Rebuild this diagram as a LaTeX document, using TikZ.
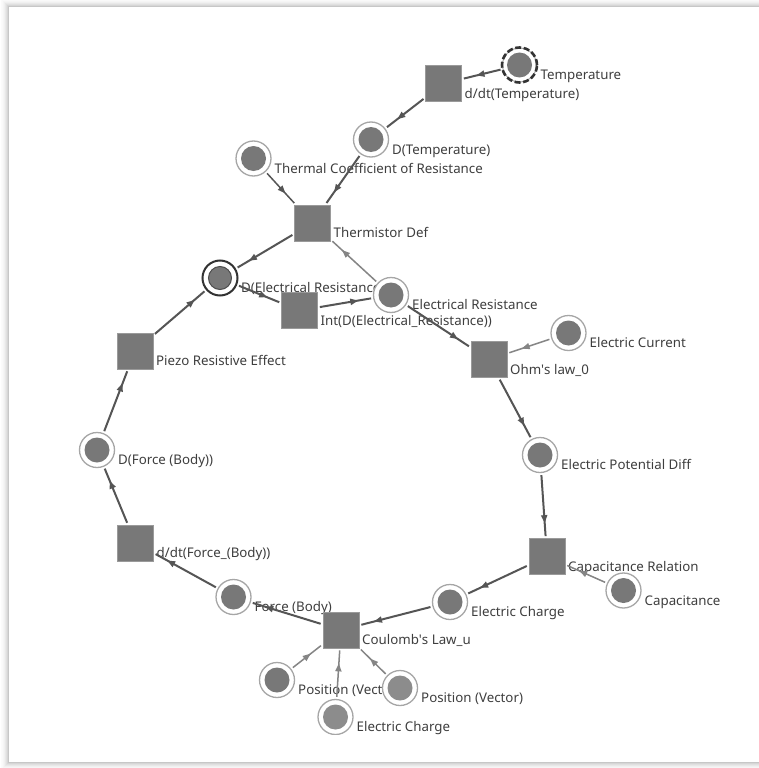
\documentclass[tikz,border=0pt]{standalone}
\usepackage{fontspec}
\setmainfont{Noto Sans}
\usetikzlibrary{arrows.meta,decorations.markings}
\definecolor{nodegray}{HTML}{787878}
\definecolor{lightnode}{HTML}{8C8C8C}
\definecolor{ringgray}{HTML}{A6A6A6}
\definecolor{sqborder}{HTML}{9A9A9A}
\definecolor{textgray}{HTML}{3E3E3E}
\definecolor{edgedark}{HTML}{555555}
\definecolor{edgelight}{HTML}{858585}
\pgfdeclarelayer{panel}
\pgfdeclarelayer{labels}
\pgfdeclarelayer{edges}
\pgfsetlayers{panel,labels,edges,main}
\tikzset{
  place/.style={circle, minimum size=35pt, inner sep=0pt, draw=ringgray, line width=1.3pt, fill=white,
    path picture={\fill[nodegray] (path picture bounding box.center) circle (12.5pt);}},
  lplace/.style={place, path picture={\fill[lightnode] (path picture bounding box.center) circle (12.5pt);}},
  trans/.style={rectangle, minimum size=36pt, inner sep=0pt, fill=nodegray, draw=sqborder, line width=0.8pt},
  lbl/.style={anchor=base west, inner sep=0pt, text=textgray, font=\fontsize{13.3}{15}\selectfont, xshift=21pt, yshift=-14.5pt},
  arrowmark/.style={postaction={decorate}, decoration={markings, mark=at position -15pt with {\arrow{Triangle[length=8pt,width=6pt]}}}},
  edgemain/.style={draw=edgedark, line width=2pt, shorten <=2pt, shorten >=2pt, arrowmark, color=edgedark},
  edgeaux/.style={draw=edgelight, line width=1.5pt, shorten <=2pt, shorten >=2pt, arrowmark, color=edgelight},
  edgethin/.style={draw=edgedark, line width=1.5pt, shorten <=2pt, shorten >=2pt, arrowmark, color=edgedark}
}
\begin{document}
\begin{tikzpicture}[x=1pt,y=-1pt]
\useasboundingbox (0,0) rectangle (759,768);
\begin{pgfonlayer}{panel}
  \fill[white] (0,0) rectangle (759,768);
  \foreach \k/\o in {1/0.16,2/0.12,3/0.09,4/0.06,5/0.04,6/0.025,7/0.015}{
    \draw[black, opacity=\o, line width=1pt] (8-\k,7-\k) rectangle (800,762+\k);
  }
  \fill[white] (8,7) rectangle (800,762);
  \draw[black!22, line width=1pt] (8,7) rectangle (800,762);
\end{pgfonlayer}

% transitions
\node[trans] (dtT) at (443.5,83.5) {};
\node[trans] (thd) at (312.5,223) {};
\node[trans] (intd) at (299.5,310.5) {};
\node[trans] (ohm) at (489,359.5) {};
\node[trans] (caprel) at (547,556.5) {};
\node[trans] (coul) at (341,630) {};
\node[trans] (dtF) at (135.5,543) {};
\node[trans] (piezo) at (135,351) {};

% places
\node[place, draw=ringgray, line width=1pt, minimum size=34pt] (temp) at (519.5,65) {};
\draw[black!80, line width=2.6pt, dash pattern=on 6pt off 2.6pt] (temp.center) circle (17.5pt);
\node[place] (DT) at (371,139.5) {};
\node[place] (tcr) at (253.5,158.5) {};
\node[place, draw=black!80, line width=2pt,
  path picture={\filldraw[fill=nodegray, draw=black!70, line width=1pt] (path picture bounding box.center) circle (11.5pt);}] (DER) at (220,278) {};
\node[place] (ER) at (391,295) {};
\node[place] (EC) at (568.5,333) {};
\node[place] (EPD) at (540,455) {};
\node[place] (cap) at (623.5,590.5) {};
\node[place] (ech) at (450,602) {};
\node[place] (FB) at (233.5,597) {};
\node[place] (DF) at (97,450) {};
\node[place] (posL) at (277,680) {};
\node[lplace] (posR) at (400,688) {};
\node[lplace] (ech2) at (335.5,717) {};
% cut-off at the bottom of the view
\fill[white] (9,735) rectangle (759,761.5);

% labels
\begin{pgfonlayer}{labels}
\node[lbl] (tempL) at (temp) {Temperature};
\node[lbl] (dtTL) at (dtT) {d/dt(Temperature)};
\node[lbl] (DTL) at (DT) {D(Temperature)};
\node[lbl] (tcrL) at (tcr) {Thermal Coefficient of Resistance};
\node[lbl] (thdL) at (thd) {Thermistor Def};
\node[lbl] (DERL) at (DER) {D(Electrical Resistance)};
\node[lbl] (intdL) at (intd) {Int(D(Electrical\_Resistance))};
\node[lbl] (ERL) at (ER) {Electrical Resistance};
\node[lbl] (ohmL) at (ohm) {Ohm\textquotesingle s law\_0};
\node[lbl] (ECL) at (EC) {Electric Current};
\node[lbl] (EPDL) at (EPD) {Electric Potential Diff};
\node[lbl] (caprelL) at (caprel) {Capacitance Relation};
\node[lbl] (capL) at (cap) {Capacitance};
\node[lbl] (echL) at (ech) {Electric Charge};
\node[lbl] (coulL) at (coul) {Coulomb\textquotesingle s Law\_u};
\node[lbl] (FBL) at (FB) {Force (Body)};
\node[lbl] (dtFL) at (dtF) {d/dt(Force\_(Body))};
\node[lbl] (DFL) at (DF) {D(Force (Body))};
\node[lbl] (piezoL) at (piezo) {Piezo Resistive Effect};
\node[lbl] (posLL) at (posL) {Position (Vector)};
\node[lbl] (posRL) at (posR) {Position (Vector)};
\node[lbl] (ech2L) at (ech2) {Electric Charge};
\end{pgfonlayer}

% edges
\begin{pgfonlayer}{edges}
\draw[edgemain] (temp) -- (dtT);
\draw[edgemain] (dtT) -- (DT);
\draw[edgemain] (DT) -- (thd);
\draw[edgethin] (tcr) -- (thd);
\draw[edgemain] (thd) -- (DER);
\draw[edgeaux] (ER) -- (thd);
\draw[edgemain] (DER) -- (intd);
\draw[edgemain] (intd) -- (ER);
\draw[edgemain] (ER) -- (ohm);
\draw[edgeaux] (EC) -- (ohm);
\draw[edgemain] (ohm) -- (EPD);
\draw[edgemain] (EPD) -- (caprel);
\draw[edgeaux] (cap) -- (caprel);
\draw[edgemain] (caprel) -- (ech);
\draw[edgemain] (ech) -- (coul);
\draw[edgemain] (coul) -- (FB);
\draw[edgemain] (FB) -- (dtF);
\draw[edgemain] (dtF) -- (DF);
\draw[edgemain] (DF) -- (piezo);
\draw[edgemain] (piezo) -- (DER);
\draw[edgeaux] (posL) -- (coul);
\draw[edgeaux] (ech2) -- (coul);
\draw[edgeaux] (posR) -- (coul);
\end{pgfonlayer}
\end{tikzpicture}
\end{document}
